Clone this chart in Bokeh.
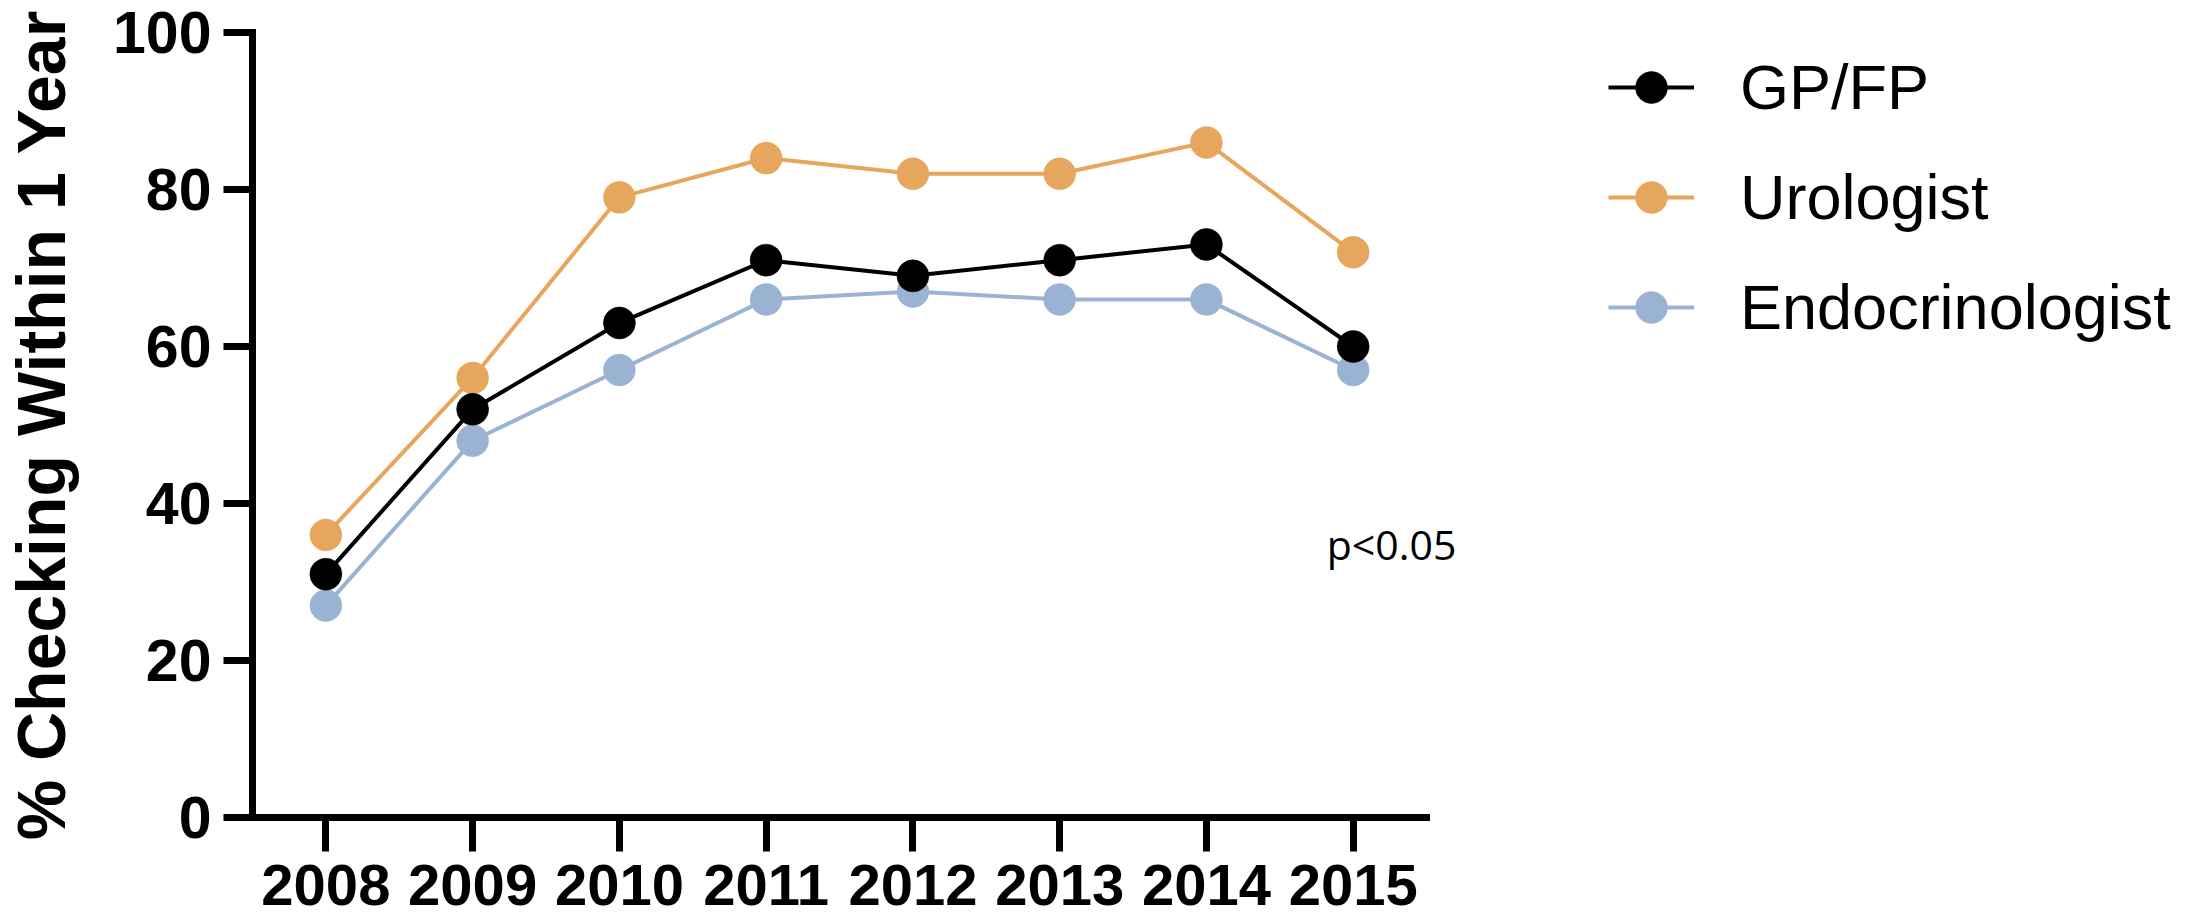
from bokeh.plotting import figure
from bokeh.models import (FixedTicker, Legend, LegendItem, Label, ColumnDataSource)
from bokeh.embed import file_html
from bokeh.resources import INLINE

# ---- data ----
years = [2008, 2009, 2010, 2011, 2012, 2013, 2014, 2015]
gp_fp = [31, 52, 63, 71, 69, 71, 73, 60]
urologist = [36, 56, 79, 84, 82, 82, 86, 72]
endocrinologist = [27, 48, 57, 66, 67, 66, 66, 57]
y_ticks = [0, 20, 40, 60, 80, 100]
series_names = ["GP/FP", "Urologist", "Endocrinologist"]
series_colors = ["#000000", "#E6A65D", "#9AB3D2"]
annotation_text = "p<0.05"
y_title = "% Checking Within 1 Year"

# ---- layout ----
W, H = 2176, 921
LEFT, TOP, BOTTOM = 248, 32, 104
axis_px_per_year = 1176.5 / 8.0          # width of the x axis / 8 years
x_start = years[0] - 0.5
x_end = x_start + (W - LEFT) / axis_px_per_year

p = figure(width=W, height=H,
           x_range=(x_start, x_end), y_range=(0, 100),
           output_backend="svg", toolbar_location=None,
           min_border_left=LEFT, min_border_top=TOP, min_border_right=0,
           min_border_bottom=BOTTOM)
p.outline_line_color = None
p.xgrid.visible = False
p.ygrid.visible = False
p.background_fill_color = "white"
p.border_fill_color = "white"

src = ColumnDataSource(dict(x=years, gp=gp_fp, uro=urologist, endo=endocrinologist))

renderers = {}
for col, name, color in [("endo", series_names[2], series_colors[2]),
                         ("uro", series_names[1], series_colors[1]),
                         ("gp", series_names[0], series_colors[0])]:
    ln = p.line("x", col, source=src, line_color=color, line_width=4)
    sc = p.scatter("x", col, source=src, size=32, fill_color=color,
                   line_color=color, line_width=0.5)
    renderers[name] = [ln, sc]

legend = Legend(items=[LegendItem(label=n, renderers=renderers[n]) for n in series_names],
                location=(1356, 470), orientation="vertical",
                glyph_width=86, glyph_height=80, label_standoff=46, spacing=30,
                padding=0, margin=0, border_line_alpha=0, background_fill_alpha=0,
                label_text_font="Liberation Sans", label_text_font_size="63px",
                label_text_color="black")
p.add_layout(legend, "center")

# axes
for ax in (p.xaxis[0], p.yaxis[0]):
    ax.axis_line_width = 7
    ax.axis_line_color = "black"
    ax.axis_line_cap = "square"
    ax.major_tick_line_width = 7
    ax.major_tick_line_color = "black"
    ax.major_tick_in = 0
    ax.minor_tick_line_color = None
    ax.major_label_text_font = "Liberation Sans"
    ax.major_label_text_font_style = "bold"
    ax.major_label_text_color = "black"

p.xaxis.ticker = FixedTicker(ticks=years)
p.xaxis.bounds = (x_start, years[-1] + 0.5)
p.xaxis.major_tick_out = 34
p.xaxis.major_label_standoff = 13
p.xaxis.major_label_text_font_size = "58px"

p.yaxis.ticker = FixedTicker(ticks=y_ticks)
p.yaxis.major_tick_out = 29
p.yaxis.major_label_standoff = 12
p.yaxis.major_label_text_font_size = "59px"
p.yaxis.axis_label = y_title
p.yaxis.axis_label_text_font = "Liberation Sans"
p.yaxis.axis_label_text_font_style = "bold"
p.yaxis.axis_label_text_font_size = "68px"
p.yaxis.axis_label_text_color = "black"
p.yaxis.axis_label_standoff = 31

p.add_layout(Label(x=2014.82, y=34.9, text=annotation_text,
                   text_font="Open Sans", text_font_size="41px",
                   text_color="black", text_baseline="alphabetic"))

open("out.html", "w").write(file_html(p, INLINE))
